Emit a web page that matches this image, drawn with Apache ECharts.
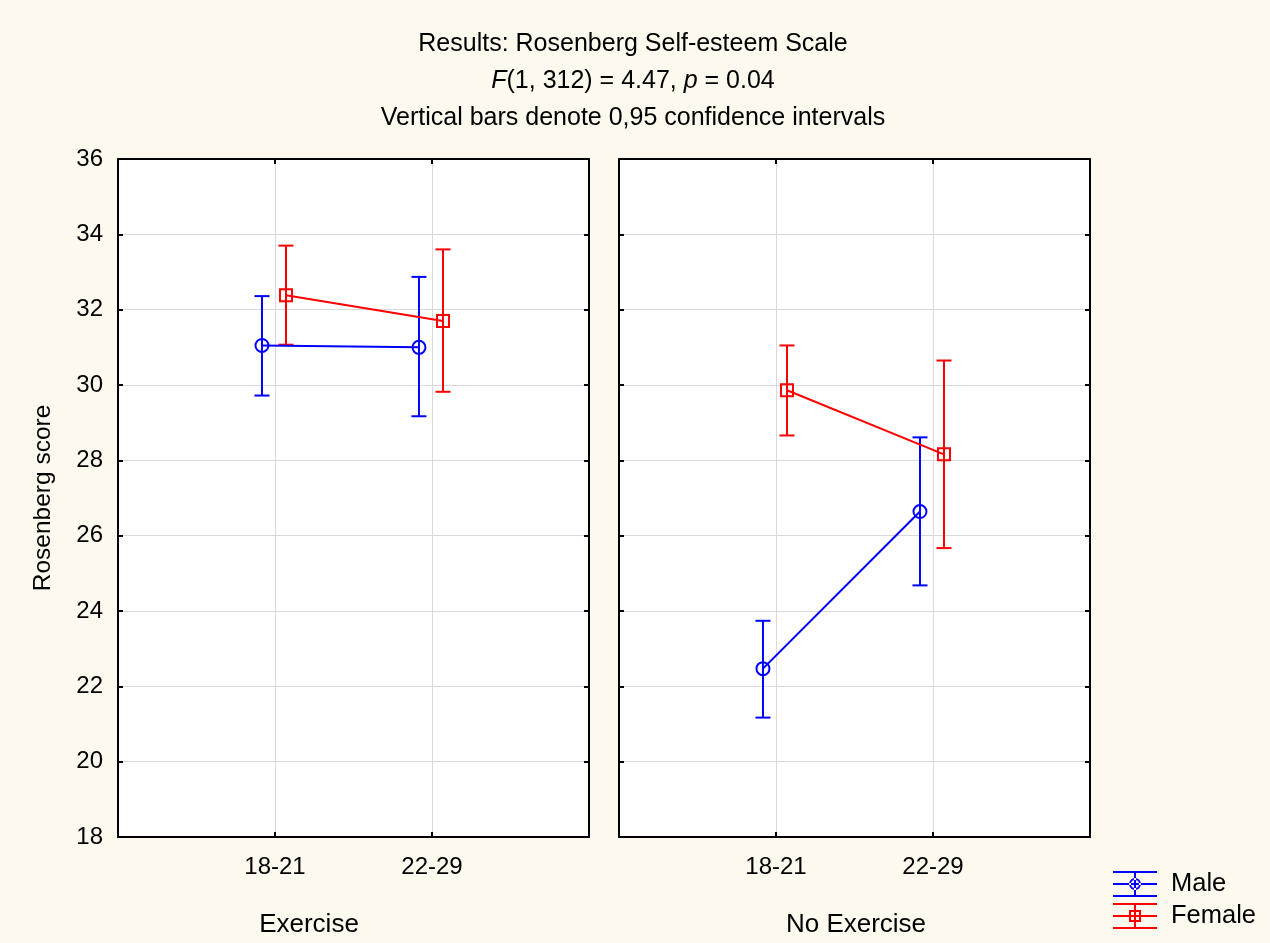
<!DOCTYPE html>
<html>
<head>
<meta charset="utf-8">
<script src="https://cdn.jsdelivr.net/npm/echarts@6/dist/echarts.min.js"></script>
<style>
  html, body { margin: 0; padding: 0; background: #fdf9ee; }
  #chart { width: 1270px; height: 943px; }
</style>
</head>
<body>
<div id="chart"></div>
<script>
// ---- data ----
const ageGroups = ['18-21', '22-29'];
const conditions = ['Exercise', 'No Exercise'];
const yTicks = [18, 20, 22, 24, 26, 28, 30, 32, 34, 36];

// [Exercise, No Exercise], each per age group
const maleMean  = [[31.05, 31.00], [22.47, 26.64]];
const maleLow   = [[29.72, 29.17], [21.17, 24.68]];
const maleHigh  = [[32.36, 32.87], [23.74, 28.61]];
const femaleMean = [[32.38, 31.70], [29.86, 28.16]];
const femaleLow  = [[31.07, 29.82], [28.66, 25.67]];
const femaleHigh = [[33.70, 33.60], [31.05, 30.65]];

// ---- layout / style ----
const FONT = '"Liberation Sans", Arial, sans-serif';
const BLUE = '#0000ff';
const RED = '#ff0000';
const DODGE = { Male: -0.083, Female: 0.07 };
const grids = [
  { left: 118, top: 159, width: 471, height: 678 },
  { left: 619, top: 159, width: 471, height: 678 }
];

const maleIcon = 'path://M0 0H44V2H0Z M0 12H44V14H0Z M0 24H44V26H0Z M21 0H23V26H21Z ' +
  'M16 13A6 6 0 1 0 28 13A6 6 0 1 0 16 13Z M18 13A4 4 0 1 1 26 13A4 4 0 1 1 18 13Z';
const femaleIcon = 'path://M0 0H44V2H0Z M0 12H44V14H0Z M0 24H44V26H0Z M21 0H23V26H21Z ' +
  'M16 7H28V19H16Z M18 9V17H26V9Z';

function errorBar(params, api) {
  const x = api.value(0), lo = api.value(1), hi = api.value(2);
  const a = api.coord([x, lo]), b = api.coord([x, hi]);
  const half = 7.5;
  const style = { stroke: api.visual('color'), lineWidth: 2, fill: null };
  return {
    type: 'group',
    children: [
      { type: 'line', shape: { x1: a[0], y1: a[1], x2: b[0], y2: b[1] }, style },
      { type: 'line', shape: { x1: a[0] - half, y1: a[1], x2: a[0] + half, y2: a[1] }, style },
      { type: 'line', shape: { x1: b[0] - half, y1: b[1], x2: b[0] + half, y2: b[1] }, style }
    ]
  };
}

function tick() {
  return { show: true, inside: true, length: 5, lineStyle: { color: '#000', width: 2 } };
}
function axLine() {
  return { show: true, onZero: false, lineStyle: { color: '#000', width: 2 } };
}

const xAxes = [], yAxes = [], series = [];
grids.forEach((g, p) => {
  const main = p === 0;
  xAxes.push({
    type: 'value', gridIndex: p, min: 0, max: 3, interval: 1, position: 'bottom',
    axisLine: axLine(), axisTick: tick(),
    axisLabel: {
      margin: 18, color: '#000', fontSize: 24, fontFamily: FONT,
      formatter: v => (v >= 1 && v <= ageGroups.length) ? ageGroups[v - 1] : ''
    },
    splitLine: { show: true, lineStyle: { color: '#d9d9d9', width: 1 } }
  });
  xAxes.push({
    type: 'value', gridIndex: p, min: 0, max: 3, interval: 1, position: 'top',
    axisLine: axLine(), axisTick: tick(), axisLabel: { show: false }, splitLine: { show: false }
  });
  yAxes.push({
    type: 'value', gridIndex: p, min: yTicks[0], max: yTicks[yTicks.length - 1], interval: 2, position: 'left',
    axisLine: axLine(), axisTick: tick(),
    axisLabel: { show: main, margin: 15, color: '#000', fontSize: 24, fontFamily: FONT },
    splitLine: { show: true, lineStyle: { color: '#d9d9d9', width: 1 } },
    name: main ? 'Rosenberg score' : '', nameLocation: 'middle', nameGap: 62, nameRotate: 90,
    nameTextStyle: { color: '#000', fontSize: 24.5, fontFamily: FONT }
  });
  yAxes.push({
    type: 'value', gridIndex: p, min: yTicks[0], max: yTicks[yTicks.length - 1], interval: 2, position: 'right',
    axisLine: axLine(), axisTick: tick(), axisLabel: { show: false }, splitLine: { show: false }
  });

  const groups = [
    { name: 'Male', color: BLUE, symbol: 'circle', mean: maleMean[p], low: maleLow[p], high: maleHigh[p] },
    { name: 'Female', color: RED, symbol: 'rect', mean: femaleMean[p], low: femaleLow[p], high: femaleHigh[p] }
  ];
  groups.forEach(s => {
    series.push({
      name: s.name, type: 'custom', xAxisIndex: 2 * p, yAxisIndex: 2 * p,
      renderItem: errorBar, itemStyle: { color: s.color },
      encode: { x: 0, y: [1, 2] },
      data: ageGroups.map((_, i) => [i + 1 + DODGE[s.name], s.low[i], s.high[i]]),
      z: 2, silent: true
    });
    series.push({
      name: s.name, type: 'line', xAxisIndex: 2 * p, yAxisIndex: 2 * p,
      data: ageGroups.map((_, i) => [i + 1 + DODGE[s.name], s.mean[i]]),
      symbol: s.symbol, symbolSize: s.symbol === 'rect' ? 12 : 13,
      lineStyle: { color: s.color, width: 2 },
      itemStyle: { color: 'rgba(0,0,0,0)', borderColor: s.color, borderWidth: 2 },
      z: 3, silent: true, animation: false
    });
  });
});

const option = {
  backgroundColor: '#fdf9ee',
  animation: false,
  textStyle: { fontFamily: FONT },
  title: [
    {
      text: 'Results: Rosenberg Self-esteem Scale\n{i|F}(1, 312) = 4.47, {i|p} = 0.04\nVertical bars denote 0,95 confidence intervals',
      left: 633, top: 26, textAlign: 'center', padding: 0,
      textStyle: {
        color: '#000', fontSize: 25, fontWeight: 'normal', fontFamily: FONT, lineHeight: 37,
        rich: { i: { fontStyle: 'italic', fontSize: 25, fontFamily: FONT, lineHeight: 37, color: '#000' } }
      }
    },
    {
      text: conditions[0], left: 309, top: 912, textAlign: 'center', padding: 0,
      textStyle: { color: '#000', fontSize: 26, fontWeight: 'normal', fontFamily: FONT }
    },
    {
      text: conditions[1], left: 856, top: 912, textAlign: 'center', padding: 0,
      textStyle: { color: '#000', fontSize: 26, fontWeight: 'normal', fontFamily: FONT }
    }
  ],
  legend: {
    orient: 'vertical', left: 1113, top: 871, padding: 0,
    itemWidth: 44, itemHeight: 26, itemGap: 6, selectedMode: false,
    textStyle: { color: '#000', fontSize: 25.5, fontFamily: FONT, padding: [0, 0, 0, 9] },
    data: [
      { name: 'Male', icon: maleIcon, itemStyle: { color: BLUE, borderWidth: 0 } },
      { name: 'Female', icon: femaleIcon, itemStyle: { color: RED, borderWidth: 0 } }
    ]
  },
  grid: grids.map(g => Object.assign({
    show: true, backgroundColor: '#ffffff', borderWidth: 0, containLabel: false
  }, g)),
  xAxis: xAxes,
  yAxis: yAxes,
  series: series
};

const chart = echarts.init(document.getElementById('chart'), null, { renderer: 'canvas' });
chart.setOption(option);
</script>
</body>
</html>
